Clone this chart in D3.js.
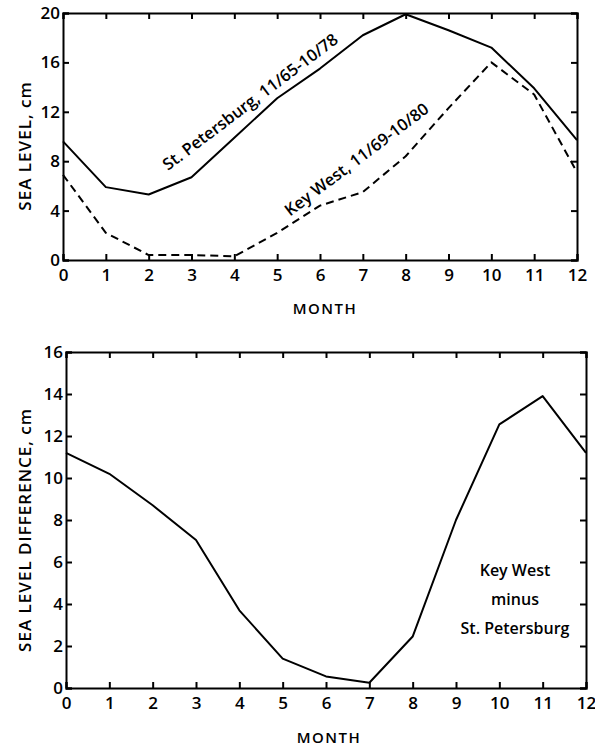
<!DOCTYPE html>
<html>
<head>
<meta charset="utf-8">
<script src="https://cdn.jsdelivr.net/npm/d3@7"></script>
<style>
  body { margin: 0; background: #fff; }
  svg text { font-family: "Open Sans", "DejaVu Sans", sans-serif; font-weight: 600; fill: #000; }
</style>
</head>
<body>
<div id="visualContainer"></div>
<script>
// months 0..12 (both panels)
var months = [0, 1, 2, 3, 4, 5, 6, 7, 8, 9, 10, 11, 12];
var monthLabels = ["0", "1", "2", "3", "4", "5", "6", "7", "8", "9", "10", "11", "12"];

// top panel, sea level cm
var stPetersburg = [9.6, 5.9, 5.3, 6.7, 9.9, 13.1, 15.5, 18.2, 19.9, 18.6, 17.2, 13.9, 9.7];
var keyWest = [6.9, 2.2, 0.4, 0.4, 0.3, 2.2, 4.4, 5.5, 8.4, 12.3, 16.0, 13.4, 7.1];
var topTicks = [0, 4, 8, 12, 16, 20];

// bottom panel, Key West minus St. Petersburg
var difference = [11.2, 10.2, 8.7, 7.05, 3.7, 1.4, 0.55, 0.25, 2.45, 8.0, 12.55, 13.9, 11.2];
var bottomTicks = [0, 2, 4, 6, 8, 10, 12, 14, 16];

var svgCanvas = d3.select("#visualContainer")
    .append("svg")
    .attr("width", 595)
    .attr("height", 748);

function drawPanel(opt) {
    var x = d3.scaleLinear().domain([0, 12]).range([opt.left, opt.right]);
    var y = d3.scaleLinear().domain([0, opt.yMax]).range([opt.bottom, opt.top]);
    var g = svgCanvas.append("g");

    // inward ticks on all four sides
    g.append("g")
        .attr("transform", "translate(0," + opt.bottom + ")")
        .call(d3.axisBottom(x).tickValues(months).tickSize(-6).tickFormat(function(d, i) { return monthLabels[i]; }).tickPadding(9))
        .call(styleAxis);
    g.append("g")
        .attr("transform", "translate(0," + opt.top + ")")
        .call(d3.axisTop(x).tickValues(months).tickSize(-6).tickFormat(""))
        .call(styleAxis);
    g.append("g")
        .attr("transform", "translate(" + opt.left + ",0)")
        .call(d3.axisLeft(y).tickValues(opt.ticks).tickSize(-6).tickPadding(3))
        .call(styleAxis);
    g.append("g")
        .attr("transform", "translate(" + opt.right + ",0)")
        .call(d3.axisRight(y).tickValues(opt.ticks).tickSize(-6).tickFormat(""))
        .call(styleAxis);

    g.selectAll(".tick text").attr("font-size", 17);

    opt.series.forEach(function(s) {
        var line = d3.line()
            .x(function(d, i) { return x(months[i]); })
            .y(function(d) { return y(d); });
        g.append("path")
            .datum(s.values)
            .attr("fill", "none")
            .attr("stroke", "#000")
            .attr("stroke-width", 2)
            .attr("stroke-dasharray", s.dash || null)
            .attr("stroke-linejoin", "round")
            .attr("d", line);
    });

    g.append("text")
        .attr("x", opt.monthX)
        .attr("y", opt.monthY)
        .attr("text-anchor", "middle")
        .attr("font-size", 15)
        .attr("font-weight", 700)
        .attr("letter-spacing", 1.5)
        .text("MONTH");

    g.append("text")
        .attr("transform", "translate(31," + opt.titleY + ") rotate(-90)")
        .attr("text-anchor", "middle")
        .attr("font-size", 17)
        .attr("font-weight", 700)
        .attr("letter-spacing", 1)
        .text(opt.title);

    return { x: x, y: y, g: g };
}

function styleAxis(sel) {
    sel.select(".domain").attr("stroke", "#000").attr("stroke-width", 2);
    sel.selectAll(".tick line").attr("stroke", "#000").attr("stroke-width", 2);
}

var topPanel = drawPanel({
    left: 63, right: 577, top: 13, bottom: 260, yMax: 20,
    ticks: topTicks,
    series: [{ values: stPetersburg }, { values: keyWest, dash: "8,5" }],
    monthX: 325, monthY: 314, title: "SEA LEVEL, cm", titleY: 146
});

// labels along the curves
topPanel.g.append("text")
    .attr("transform", "translate(" + topPanel.x(2.45) + "," + topPanel.y(7.2) + ") rotate(-37)")
    .attr("font-size", 16.5)
    .text("St. Petersburg, 11/65-10/78");
topPanel.g.append("text")
    .attr("transform", "translate(" + topPanel.x(5.3) + "," + topPanel.y(3.5) + ") rotate(-37)")
    .attr("font-size", 16.5)
    .text("Key West, 11/69-10/80");

var bottomPanel = drawPanel({
    left: 66, right: 586, top: 352, bottom: 688, yMax: 16,
    ticks: bottomTicks,
    series: [{ values: difference }],
    monthX: 329, monthY: 743, title: "SEA LEVEL DIFFERENCE, cm", titleY: 530
});

var note = ["Key West", "minus", "St. Petersburg"];
bottomPanel.g.selectAll(".note")
    .data(note)
    .enter()
    .append("text")
    .attr("class", "note")
    .attr("x", 515)
    .attr("y", function(d, i) { return 576 + i * 29; })
    .attr("text-anchor", "middle")
    .attr("font-size", 16)
    .text(function(d) { return d; });
</script>
</body>
</html>
